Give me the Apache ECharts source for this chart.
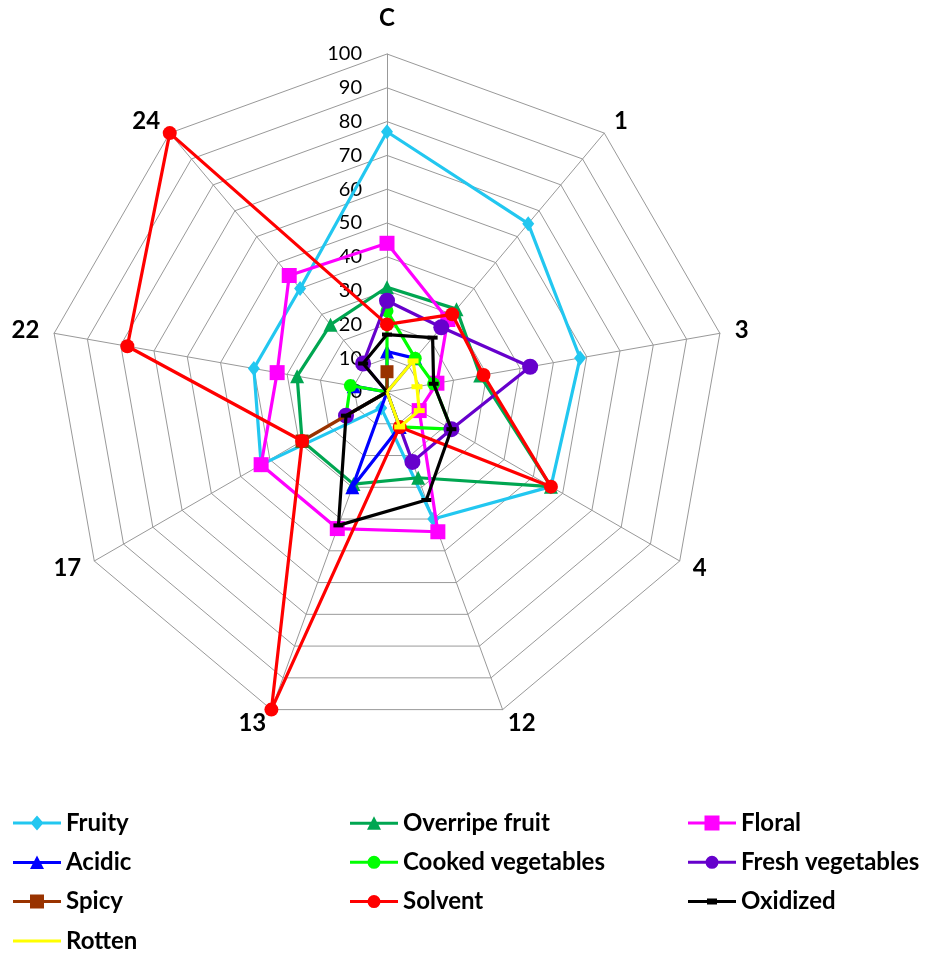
<!DOCTYPE html>
<html>
<head>
<meta charset="utf-8">
<script src="https://cdn.jsdelivr.net/npm/echarts@6/dist/echarts.min.js"></script>
<style>
html,body{margin:0;padding:0;background:#fff;}
#chart{width:926px;height:955px;}
</style>
</head>
<body>
<div id="chart"></div>
<script>
// Axis categories (Excel order, clockwise from top)
const categories = ['C', '1', '3', '4', '12', '13', '17', '22', '24'];
const scaleMin = 0;
const scaleMax = 100;
const scaleStep = 10;

// Series values (null = empty cell: line goes to centre, no marker)
const fruity           = [77, 65, 58, 56, 40, 5, 43, 40, 40];
const overripeFruit    = [31, 32, 28, 56, 27, 29, 29, 27, 26];
const floral           = [44, 28, 15, 11, 44, 43, 43, 33, 45];
const acidic           = [12, 13, null, null, 11, 30, null, 10, null];
const cookedVegetables = [24, 13, 14, 22, 11, null, 14, 11, null];
const freshVegetables  = [27, 25, 43, 22, 22, null, 14, null, 11];
const spicy            = [6, null, null, null, null, null, 29, null, null];
const solvent          = [20, 30, 29, 56, 11, 100, 29, 78, 100];
const oxidized         = [17, 21, 14, 22, 34, 42, 14, null, 11];
const rotten           = [null, 12, 9, 11, 11, null, null, null, null];

const seriesNames = ['Fruity', 'Overripe fruit', 'Floral', 'Acidic', 'Cooked vegetables',
                     'Fresh vegetables', 'Spicy', 'Solvent', 'Oxidized', 'Rotten'];
const seriesValues = [fruity, overripeFruit, floral, acidic, cookedVegetables,
                      freshVegetables, spicy, solvent, oxidized, rotten];

// Styles
const colors = ['#22C7F0', '#00A651', '#FF00FF', '#0000FF', '#00FF00',
                '#6600CC', '#993300', '#FF0000', '#000000', '#FFFF00'];
const symbols = ['diamond', 'triangle', 'rect', 'triangle', 'circle',
                 'circle', 'rect', 'circle', 'rect', 'rect'];
const symbolSizes = [[12, 15], 14, 15, 14, 13, 16, 13, 14, [10, 4], [11, 5]];
const LINE = 'M0 6.5H48V9.5H0Z';
const legendIcons = [
  'path://' + LINE + 'M24 0.5L30.5 8L24 15.5L17.5 8Z',
  'path://' + LINE + 'M24 1L31 14.5H17Z',
  'path://' + LINE + 'M16.5 0.5H31.5V15.5H16.5Z',
  'path://' + LINE + 'M24 1L31 14.5H17Z',
  'path://' + LINE + 'M30.5 8A6.5 6.5 0 1 1 17.5 8A6.5 6.5 0 1 1 30.5 8Z',
  'path://' + LINE + 'M30.5 8A6.5 6.5 0 1 1 17.5 8A6.5 6.5 0 1 1 30.5 8Z',
  'path://' + LINE + 'M17 1H31V15H17Z',
  'path://' + LINE + 'M30.5 8A6.5 6.5 0 1 1 17.5 8A6.5 6.5 0 1 1 30.5 8Z',
  'path://' + LINE + 'M19 5H29V11H19Z',
  'path://' + LINE
];
const FONT = 'Lato';
const CENTER = [387, 392];
const RADIUS = 338;

// ECharts radar runs counter-clockwise: reorder to keep Excel's clockwise layout
const toCCW = arr => [arr[0]].concat(arr.slice(1).reverse());
const radarIndicators = toCCW(categories).map(n => ({ name: n, min: scaleMin, max: scaleMax }));

const series = [];
seriesNames.forEach((name, k) => {
  series.push({
    type: 'radar',
    name: name,
    radarIndex: 0,
    symbol: 'none',
    z: 10 + 2 * k,
    lineStyle: { color: colors[k], width: 3.2, opacity: 1 },
    itemStyle: { color: colors[k] },
    data: [{ name: name, value: toCCW(seriesValues[k].map(v => v == null ? 0 : v)) }],
    animation: false
  });
  const pts = [];
  seriesValues[k].forEach((v, i) => { if (v != null) pts.push([v, i]); });
  series.push({
    type: 'scatter',
    name: name,
    coordinateSystem: 'polar',
    polarIndex: 0,
    symbol: symbols[k],
    symbolSize: symbolSizes[k],
    z: 11 + 2 * k,
    itemStyle: { color: colors[k], opacity: 1 },
    data: pts,
    silent: true,
    animation: false
  });
});

function legendCol(names, left) {
  return {
    orient: 'vertical',
    left: left,
    top: 811,
    padding: 0,
    itemWidth: 48,
    itemHeight: 16,
    itemGap: 15.3,
    selectedMode: false,
    textStyle: { fontFamily: FONT, fontWeight: 'bold', fontSize: 24, color: '#000', lineHeight: 24 },
    data: names.map(n => {
      const k = seriesNames.indexOf(n);
      return { name: n, icon: legendIcons[k], itemStyle: { color: colors[k], borderWidth: 0 } };
    })
  };
}

const chart = echarts.init(document.getElementById('chart'), null, { renderer: 'canvas' });
chart.setOption({
  backgroundColor: '#ffffff',
  animation: false,
  radar: {
    center: CENTER,
    radius: RADIUS,
    startAngle: 90,
    shape: 'polygon',
    splitNumber: (scaleMax - scaleMin) / scaleStep,
    indicator: radarIndicators,
    nameGap: 15,
    axisName: {
      color: '#000',
      fontFamily: FONT,
      fontWeight: 'bold',
      fontSize: 24,
      formatter: n => n === 'C' ? '{c|C}' : n,
      rich: { c: { fontFamily: FONT, fontWeight: 'bold', fontSize: 24, color: '#000', padding: [0, 0, 9, 0] } }
    },
    axisLine: { lineStyle: { color: '#999999', width: 1 } },
    splitLine: { lineStyle: { color: '#999999', width: 1 } },
    splitArea: { show: false },
    axisTick: { show: false },
    axisLabel: { show: false }
  },
  polar: { center: CENTER, radius: RADIUS },
  angleAxis: {
    type: 'category',
    data: categories,
    startAngle: 90,
    clockwise: true,
    boundaryGap: false,
    show: false
  },
  radiusAxis: {
    type: 'value',
    min: scaleMin,
    max: scaleMax,
    interval: scaleStep,
    axisLine: { show: false },
    axisTick: { show: false },
    splitLine: { show: false },
    axisLabel: { show: true, fontFamily: FONT, fontSize: 20, color: '#000', margin: 25 },
    z: 1
  },
  legend: [
    legendCol(['Fruity', 'Acidic', 'Spicy', 'Rotten'], 13),
    legendCol(['Overripe fruit', 'Cooked vegetables', 'Solvent'], 350),
    legendCol(['Floral', 'Fresh vegetables', 'Oxidized'], 688)
  ],
  series: series
});
</script>
</body>
</html>
